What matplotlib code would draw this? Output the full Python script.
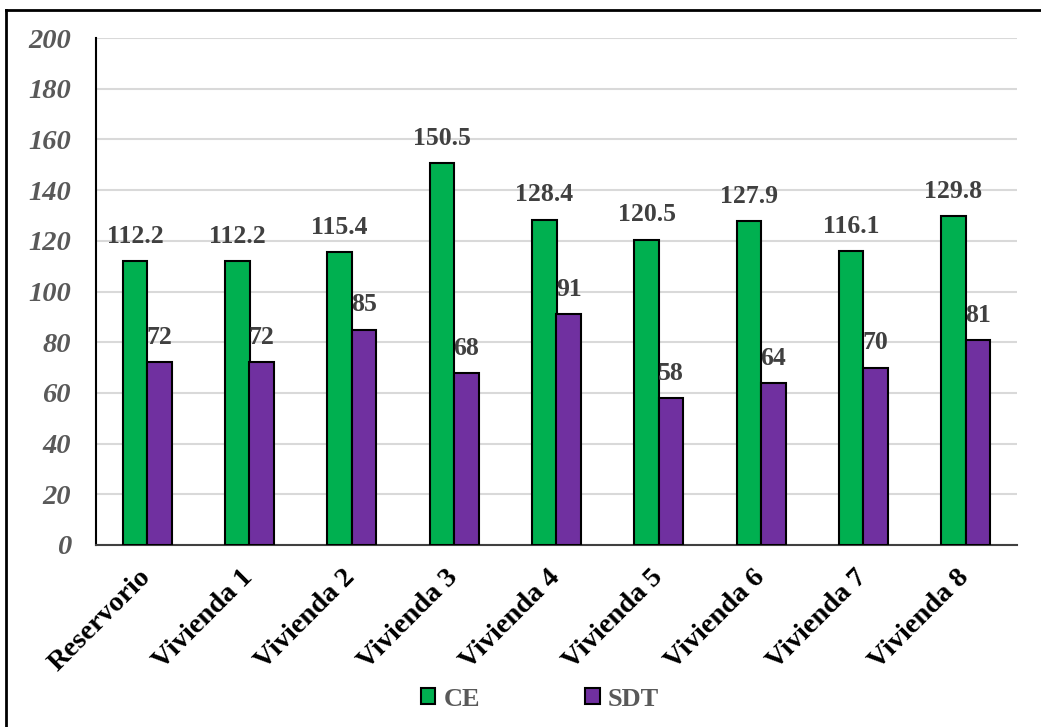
import matplotlib
matplotlib.use("Agg")
import matplotlib.pyplot as plt
import matplotlib.transforms as mtransforms
import numpy as np
from matplotlib.lines import Line2D
from matplotlib.patches import Patch

categories = ["Reservorio", "Vivienda 1", "Vivienda 2", "Vivienda 3", "Vivienda 4",
              "Vivienda 5", "Vivienda 6", "Vivienda 7", "Vivienda 8"]
ce_values = [112.2, 112.2, 115.4, 150.5, 128.4, 120.5, 127.9, 116.1, 129.8]
sdt_values = [72, 72, 85, 68, 91, 58, 64, 70, 81]
ce_labels = ["112.2", "112.2", "115.4", "150.5", "128.4", "120.5", "127.9", "116.1", "129.8"]
sdt_labels = ["72", "72", "85", "68", "91", "58", "64", "70", "81"]
yticks = [0, 20, 40, 60, 80, 100, 120, 140, 160, 180, 200]

plt.rcParams['font.family'] = ['Liberation Serif', 'DejaVu Serif']

W, H = 1041, 727
fig = plt.figure(figsize=(W / 100, H / 100), dpi=100)
ax = fig.add_axes([96 / W, 1 - 545 / H, (1017 - 96) / W, (545 - 38) / H])

x = np.arange(len(categories))
bw = 0.24
green = "#00B050"
purple = "#7030A0"
ax.bar(x - bw / 2, ce_values, bw, color=green, edgecolor="black", linewidth=1.5, zorder=3)
ax.bar(x + bw / 2, sdt_values, bw, color=purple, edgecolor="black", linewidth=1.5, zorder=3)

for xi, v, lab in zip(x, ce_values, ce_labels):
    ax.annotate(lab, (xi - bw / 2, v), xytext=(0, 13), textcoords="offset points",
                ha="center", va="baseline", fontsize=18.5, fontweight="bold", color="#404040", zorder=4)
for xi, v, lab in zip(x, sdt_values, sdt_labels):
    ax.annotate(lab, (xi + bw / 2, v), xytext=(0, 13), textcoords="offset points",
                ha="center", va="baseline", fontsize=18.5, fontweight="bold", color="#404040", zorder=4)

ax.set_xlim(-0.5, len(categories) - 0.5)
ax.set_ylim(0, 200)
ax.set_yticks(yticks)
ax.set_yticklabels([str(t) for t in yticks], fontsize=20.5, fontweight="bold", fontstyle="italic", color="#595959")
ax.set_xticks(x)
ax.set_xticklabels(categories, rotation=45, ha="right", rotation_mode="anchor",
                   fontsize=20.5, fontweight="bold", color="black")
ax.tick_params(axis="y", length=0, pad=18)
ax.tick_params(axis="x", length=0, pad=14)
offset = mtransforms.ScaledTranslation(-9 / 100, 0, fig.dpi_scale_trans)
for lab in ax.get_xticklabels():
    lab.set_transform(lab.get_transform() + offset)
ax.yaxis.grid(True, color="#D9D9D9", linewidth=1.5, zorder=0)
ax.set_axisbelow(True)
for s in ["top", "right"]:
    ax.spines[s].set_visible(False)
ax.spines["left"].set_color("black")
ax.spines["left"].set_linewidth(1.5)
ax.spines["bottom"].set_color("#404040")
ax.spines["bottom"].set_linewidth(1.5)

handles = [Patch(facecolor=green, edgecolor="black", linewidth=1.5),
           Patch(facecolor=purple, edgecolor="black", linewidth=1.5)]
leg = fig.legend(handles, ["CE", "SDT"], loc="center", bbox_to_anchor=(540 / W, 1 - 699 / H),
                 ncol=2, frameon=False, handlelength=0.55, handleheight=0.55, handletextpad=0.3,
                 columnspacing=4.0, prop={"family": "Liberation Serif", "weight": "bold", "size": 19})
for t in leg.get_texts():
    t.set_color("#595959")

# outer border
fig.add_artist(Line2D([6 / W, 6 / W], [0, 1 - 10 / H], transform=fig.transFigure, color="black", linewidth=2))
fig.add_artist(Line2D([6 / W, 1], [1 - 10 / H, 1 - 10 / H], transform=fig.transFigure, color="black", linewidth=2))

fig.savefig("out.png", dpi=100)
